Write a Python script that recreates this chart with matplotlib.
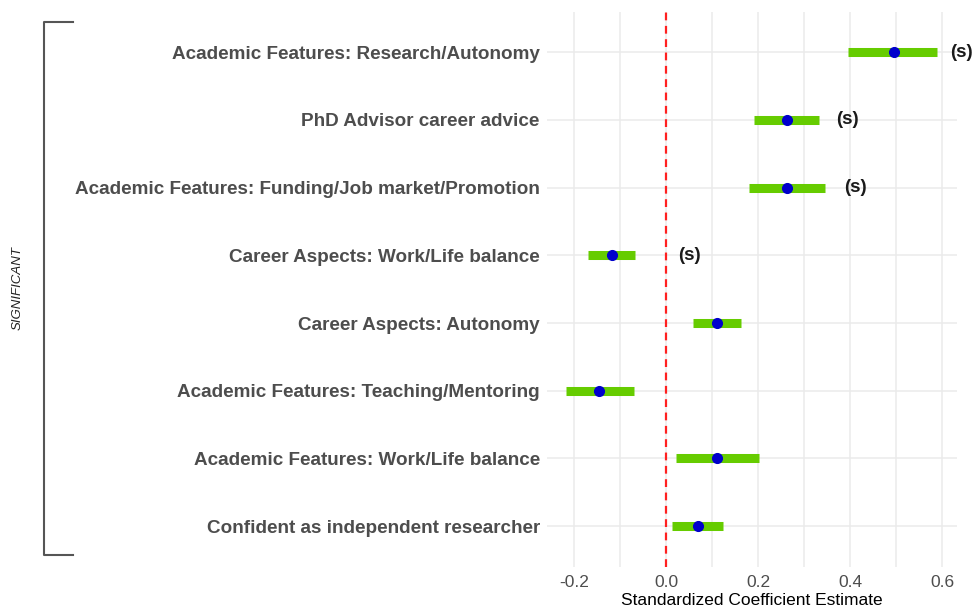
import matplotlib
matplotlib.use("Agg")
import matplotlib.pyplot as plt
from matplotlib.ticker import MultipleLocator
from matplotlib.lines import Line2D

plt.rcParams['font.family'] = ['Liberation Sans', 'DejaVu Sans']

# 数据（自上而下）
labels = [
    "Academic Features: Research/Autonomy",
    "PhD Advisor career advice",
    "Academic Features: Funding/Job market/Promotion",
    "Career Aspects: Work/Life balance",
    "Career Aspects: Autonomy",
    "Academic Features: Teaching/Mentoring",
    "Academic Features: Work/Life balance",
    "Confident as independent researcher",
]
estimate = [0.495, 0.262, 0.262, -0.118, 0.111, -0.145, 0.111, 0.069]
ci_low = [0.396, 0.191, 0.179, -0.170, 0.058, -0.218, 0.021, 0.012]
ci_high = [0.588, 0.331, 0.344, -0.067, 0.162, -0.070, 0.201, 0.124]
sig_x = [0.642, 0.393, 0.412, 0.050]   # "(s)" 标注位置（前四行）
sig_text = ["(s)", "(s)", "(s)", "(s)"]

fig = plt.figure(figsize=(9.74, 6.08), dpi=100)
ax = fig.add_axes([0.5613, 0.0679, 0.4210, 0.9129])

n = len(labels)
ypos = list(range(n, 0, -1))

ax.hlines(ypos, ci_low, ci_high, color='#66cc00', linewidth=6.5, zorder=3)
ax.plot(estimate, ypos, 'o', color='#0000cc', markersize=7, zorder=4)
ax.axvline(0, color='#ff2020', linestyle=(0, (3.5, 2.5)), linewidth=1.6, zorder=2)

for i, (sx, st) in enumerate(zip(sig_x, sig_text)):
    ax.text(sx, ypos[i], st, ha='center', va='center', fontsize=13.5,
            fontweight='bold', color='#1a1a1a', clip_on=False)

ax.set_xlim(-0.259, 0.631)
ax.set_ylim(0.4, n + 0.6)
ax.xaxis.set_major_locator(MultipleLocator(0.2))
ax.xaxis.set_minor_locator(MultipleLocator(0.1))
ax.set_xticks([-0.2, 0.0, 0.2, 0.4, 0.6])
ax.set_xticklabels(['-0.2', '0.0', '0.2', '0.4', '0.6'])
ax.set_yticks(ypos)
ax.set_yticklabels(labels, fontweight='bold', fontsize=13.6, color='#4d4d4d')
ax.tick_params(axis='x', length=0, labelsize=12.5, labelcolor='#4d4d4d', pad=6)
ax.tick_params(axis='x', which='minor', length=0)
ax.tick_params(axis='y', length=0, pad=5)
ax.grid(True, which='major', color='#ebebeb', linewidth=1.1, zorder=0)
ax.grid(True, which='minor', axis='x', color='#ebebeb', linewidth=1.1, zorder=0)
ax.set_axisbelow(True)
for sp in ax.spines.values():
    sp.set_visible(False)
ax.set_xlabel('Standardized Coefficient Estimate', fontsize=12.5, color='black', labelpad=2)

# 左侧括号与组名
bx, bx2 = 44 / 974, 73 / 974
by_top, by_bot = 1 - 22 / 608, 1 - 555 / 608
fig.add_artist(Line2D([bx2, bx, bx, bx2], [by_top, by_top, by_bot, by_bot],
                      transform=fig.transFigure, color='#555555', linewidth=1.5))
fig.text(18 / 974, (by_top + by_bot) / 2, 'SIGNIFICANT', rotation=90, style='italic',
         fontsize=9.5, ha='center', va='center', color='#222222')

fig.savefig('out.png', dpi=100)
